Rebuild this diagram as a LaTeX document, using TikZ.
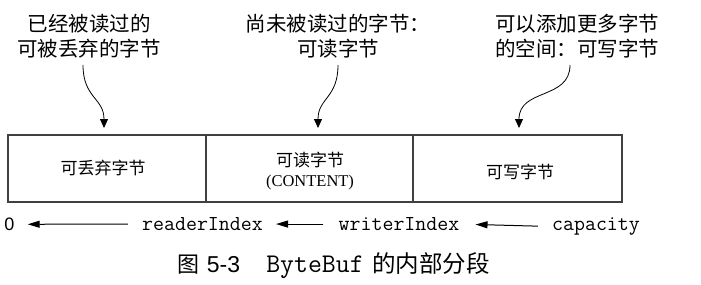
\documentclass[tikz,border=0pt]{standalone}
\usepackage{fontspec}
\setmainfont{Liberation Serif}
\setsansfont{Liberation Sans}
\newfontfamily\cjk{Noto Sans CJK SC}
\usetikzlibrary{arrows.meta}
\definecolor{boxline}{HTML}{404040}
\tikzset{
  toplabel/.style={font=\cjk\fontsize{20.5}{25}\selectfont, align=center, inner sep=0pt},
  boxtext/.style={font=\cjk\fontsize{17}{20}\selectfont, inner sep=0pt},
  idx/.style={font=\ttfamily\fontsize{21.3}{22}\selectfont, inner sep=0pt, anchor=base},
  captext/.style={inner sep=0pt, anchor=base},
  callout/.style={line width=0.8pt, -{Triangle[length=9pt,width=8pt]}},
  idxarrow/.style={line width=1pt, -{Triangle[length=12pt,width=7pt]}}
}
\begin{document}
\begin{tikzpicture}[x=1pt,y=-1pt]
\useasboundingbox (0,0) rectangle (701,284);
% top labels
\node[toplabel] (l1) at (89,36) {已经被读过的\\可被丢弃的字节};
\node[toplabel] (l2) at (338,36) {尚未被读过的字节：\\可读字节};
\node[toplabel] (l3) at (577,36) {可以添加更多字节\\的空间：可写字节};
% box segments
\draw[draw=boxline, line width=1.6pt] (8,135) rectangle (622,202);
\draw[draw=boxline, line width=1.6pt] (206,135) -- (206,202);
\draw[draw=boxline, line width=1.6pt] (413,135) -- (413,202);
\coordinate (t1) at (104,128);
\coordinate (t2) at (318,128);
\coordinate (t3) at (519,128);
\node[boxtext] (b1) at (103,168) {可丢弃字节};
\node[boxtext] (b2) at (310,160) {可读字节};
\node[font=\fontsize{16.5}{18}\selectfont, inner sep=0pt] (b2b) at (310,183) {(CONTENT)};
\node[boxtext] (b3) at (520,172) {可写字节};
% callouts
\draw[callout] (83,65) .. controls (83,98) and (104,98) .. (t1);
\draw[callout] (338,65) .. controls (338,98) and (318,98) .. (t2);
\draw[callout] (570,65) .. controls (570,100) and (519,88) .. (t3);
% indexes
\node[font=\sffamily\fontsize{18}{20}\selectfont, captext] (zero) at (9.5,230.5) {0};
\node[idx] (ri) at (202.5,230.5) {readerIndex};
\node[idx] (wi) at (399,230.5) {writerIndex};
\node[idx] (capy) at (596,230.5) {capacity};
\draw[idxarrow, shorten <=14pt, shorten >=13pt] (ri.west) -- (zero.east);
\draw[idxarrow, shorten <=15pt, shorten >=13pt] (wi.west) -- (ri.east);
\draw[idxarrow, shorten <=14pt, shorten >=16pt] (capy.west) -- (wi.east);
% caption
\node[font=\cjk\fontsize{22}{24}\selectfont, captext] (c1) at (188,272.5) {图};
\node[font=\sffamily\fontsize{23}{24}\selectfont, captext] (c2) at (223.5,272) {5-3};
\node[font=\ttfamily\fontsize{27}{28}\selectfont, captext] (c3) at (315,272) {ByteBuf};
\node[font=\cjk\fontsize{23.5}{24}\selectfont, captext] (c4) at (431,272.5) {的内部分段};
\end{tikzpicture}
\end{document}
